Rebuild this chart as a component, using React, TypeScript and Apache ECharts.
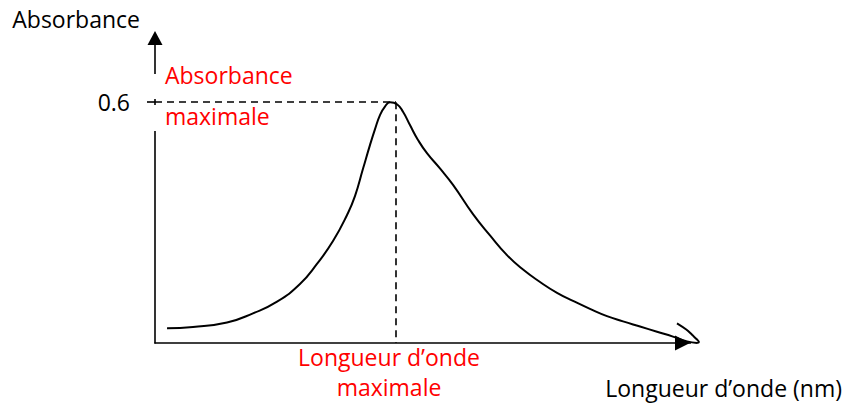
import React, { useEffect, useRef } from "react";
import * as echarts from "echarts";

// Absorption spectrum (wavelength in nm, absorbance)
const wavelength = [311.4, 336.0, 368.2, 392.8, 415.6, 437.3, 453.4, 468.6, 481.9, 489.4, 497.0, 503.6, 508.4, 513.1, 517.8, 522.6, 529.2, 534.9, 541.5, 549.1, 557.6, 569.9, 582.3, 601.2, 617.3, 633.4, 648.6, 664.7, 680.8, 695.9, 712.0, 728.1, 743.3, 759.4, 775.5, 790.6, 803.9, 813.4];
const absorbance = [0.037, 0.040, 0.051, 0.074, 0.103, 0.147, 0.197, 0.254, 0.319, 0.366, 0.434, 0.493, 0.533, 0.568, 0.589, 0.600, 0.595, 0.576, 0.543, 0.506, 0.473, 0.435, 0.394, 0.321, 0.268, 0.219, 0.183, 0.152, 0.125, 0.105, 0.085, 0.067, 0.054, 0.041, 0.028, 0.016, 0.004, 0.0];

// hand-drawn hook at the end of the trace
const hookWavelength = [813.4, 815.2, 813.4, 808.9, 803.2, 794.4];
const hookAbsorbance = [0.0, 0.0025, 0.0087, 0.0199, 0.0336, 0.0491];

const absMax = 0.6;
const lambdaMax = 528.3;
const xMin = 300;
const xMax = 820;
const xArrowOffset = -21.5;
const yMin = 0;
const yMax = 0.76;
const yTickValues = [0.6];
const yTickLabels = ["0.6"];

const yAxisName = "Absorbance";
const xAxisName = "Longueur d\u2019onde (nm)";
const absMaxLabel = ["Absorbance", "maximale"];
const lambdaMaxLabel = ["Longueur d\u2019onde", "maximale"];

const FONT = "'Open Sans', 'Noto Sans', sans-serif";
const FS = 23;
const RED = "#ff0000";

export default function App() {
  const ref = useRef<HTMLDivElement>(null);
  useEffect(() => {
    if (!ref.current) return;
    const chart = echarts.init(ref.current, undefined, { renderer: "svg" });
    const data = wavelength.map((w, i) => [w, absorbance[i]]);
    const hook = hookWavelength.map((w, i) => [w, hookAbsorbance[i]]);
    const textEl = (text: string, x: number, y: number, align: string) => ({
      type: "text",
      z: 101,
      x,
      y,
      style: { text, fill: RED, font: `${FS}px ${FONT}`, textAlign: align, textVerticalAlign: "middle" },
    });
    chart.setOption({
      animation: false,
      backgroundColor: "#ffffff",
      textStyle: { fontFamily: FONT },
      grid: { left: 155, right: 152, top: 38, bottom: 61, containLabel: false },
      xAxis: {
        type: "value",
        min: xMin,
        max: xMax,
        name: xAxisName,
        nameLocation: "end",
        nameGap: 138,
        nameTextStyle: {
          color: "#000",
          fontSize: FS,
          fontFamily: FONT,
          align: "right",
          verticalAlign: "top",
          padding: [33, 0, 0, 0],
        },
        axisLine: {
          show: true,
          symbol: ["none", "triangle"],
          symbolSize: [15, 15],
          symbolOffset: [0, xArrowOffset],
          lineStyle: { color: "#000", width: 1.6 },
        },
        axisTick: { show: false },
        axisLabel: { show: false },
        splitLine: { show: false },
      },
      yAxis: {
        type: "value",
        min: yMin,
        max: yMax,
        interval: 0.6,
        name: yAxisName,
        nameLocation: "end",
        nameGap: 19,
        nameTextStyle: {
          color: "#000",
          fontSize: FS,
          fontFamily: FONT,
          align: "right",
          verticalAlign: "middle",
          padding: [0, 15, 0, 0],
        },
        axisLine: {
          show: true,
          symbol: ["none", "triangle"],
          symbolSize: [15, 14],
          lineStyle: { color: "#000", width: 1.6 },
        },
        axisTick: {
          show: true,
          customValues: yTickValues,
          length: 8,
          lineStyle: { color: "#000", width: 1.6 },
        },
        axisLabel: {
          show: true,
          customValues: yTickValues,
          margin: 25,
          color: "#000",
          fontSize: FS,
          fontFamily: FONT,
          formatter: (v: number) => {
            const i = yTickValues.findIndex((t) => Math.abs(t - v) < 1e-9);
            return i >= 0 ? yTickLabels[i] : "";
          },
        },
        splitLine: { show: false },
      },
      graphic: [
        // breaks in the y-axis line around the red annotation
        { type: "rect", z: 100, shape: { x: 150, y: 74, width: 10, height: 25 }, style: { fill: "#fff" } },
        { type: "rect", z: 100, shape: { x: 150, y: 105, width: 10, height: 26 }, style: { fill: "#fff" } },
        // hide the x-axis line beyond the arrow tip
        { type: "rect", z: 1, shape: { x: 691, y: 339, width: 16, height: 8 }, style: { fill: "#fff" } },
        textEl(absMaxLabel[0], 165, 75, "left"),
        textEl(absMaxLabel[1], 165, 116, "left"),
        textEl(lambdaMaxLabel[0], 389, 357, "center"),
        textEl(lambdaMaxLabel[1], 389, 387, "center"),
      ],
      series: [
        {
          type: "line",
          data,
          smooth: 0.5,
          clip: false,
          z: 3,
          showSymbol: false,
          symbol: "none",
          lineStyle: { color: "#000", width: 2 },
          silent: true,
          markLine: {
            silent: true,
            symbol: ["none", "none"],
            label: { show: false },
            lineStyle: { color: "#000", width: 1.6, type: [7, 5] },
            data: [
              [{ coord: [xMin, absMax] }, { coord: [lambdaMax, absMax] }],
              [{ coord: [lambdaMax, absMax] }, { coord: [lambdaMax, yMin] }],
            ],
          },
        },
        {
          type: "line",
          data: hook,
          smooth: 0.4,
          clip: false,
          z: 3,
          showSymbol: false,
          symbol: "none",
          lineStyle: { color: "#000", width: 2 },
          silent: true,
        },
      ],
    });
    return () => chart.dispose();
  }, []);
  return <div ref={ref} style={{ position: "absolute", left: 0, top: 0, width: 856, height: 404 }} />;
}
